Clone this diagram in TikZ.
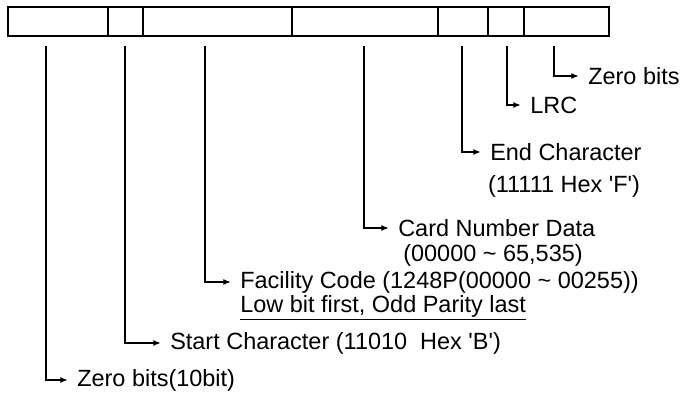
\documentclass[tikz,border=0pt]{standalone}
\usepackage{fontspec}
\setmainfont{Liberation Sans}
\usetikzlibrary{arrows.meta,positioning}
\tikzset{
  field/.style={draw, line width=1.3pt, minimum height=21.75pt, inner sep=0pt, outer sep=0pt, anchor=west},
  feed/.style={line width=0.9pt, -{Latex[length=5.5pt,width=4.5pt]}, shorten >=7pt},
  sub/.style={inner sep=0pt, font=\fontsize{17.6}{21}\selectfont},
  lbl/.style={sub, anchor=west},
}
\newcommand{\hexq}[1]{\textquotesingle#1\textquotesingle}
\begin{document}
\begin{tikzpicture}[x=0.75pt,y=-0.75pt]
	\useasboundingbox (0,0) rectangle (685,396);
	% the bit frame
	\node[field, minimum width=75pt] (f1) at (8,21.5) {};
	\node[field, minimum width=26.25pt] (f2) at (f1.east) {};
	\node[field, minimum width=111.75pt] (f3) at (f2.east) {};
	\node[field, minimum width=109.5pt] (f4) at (f3.east) {};
	\node[field, minimum width=37.5pt] (f5) at (f4.east) {};
	\node[field, minimum width=27pt] (f6) at (f5.east) {};
	\node[field, minimum width=63.75pt] (f7) at (f6.east) {};
	% tops of the drop lines
	\coordinate (d1) at (46,46);
	\coordinate (d2) at (125,46);
	\coordinate (d3) at (205,46);
	\coordinate (d4) at (364,46);
	\coordinate (d5) at (462,46);
	\coordinate (d6) at (507,46);
	\coordinate (d7) at (554,46);
	% labels
	\node[lbl] (zerotail) at (588,76) {Zero bits};
	\node[lbl] (lrc) at (530,105) {LRC};
	\node[lbl] (endchar) at (490,152) {End Character};
	\node[sub] (endcode) at (564,186) {(11111 Hex \hexq{F})};
	\node[lbl] (card) at (398,228) {Card Number Data};
	\node[sub] (cardrange) at (493,255) {(00000 \textasciitilde{} 65,535)};
	\node[lbl] (facility) at (240,282) {Facility Code (1248P(00000 \textasciitilde{} 00255))};
	\node[lbl] (facnote) at (240,308) {\underline{Low bit first, Odd Parity last}};
	\node[lbl] (startchar) at (170,343) {Start Character (11010\ \ Hex \hexq{B})};
	\node[lbl] (zerolead) at (77,380) {Zero bits(10bit)};
	% drop lines
	\draw[feed] (d7) |- (zerotail.west);
	\draw[feed] (d6) |- (lrc.west);
	\draw[feed] (d5) |- (endchar.west);
	\draw[feed] (d4) |- (card.west);
	\draw[feed] (d3) |- (facility.west);
	\draw[feed] (d2) |- (startchar.west);
	\draw[feed] (d1) |- (zerolead.west);
\end{tikzpicture}
\end{document}
